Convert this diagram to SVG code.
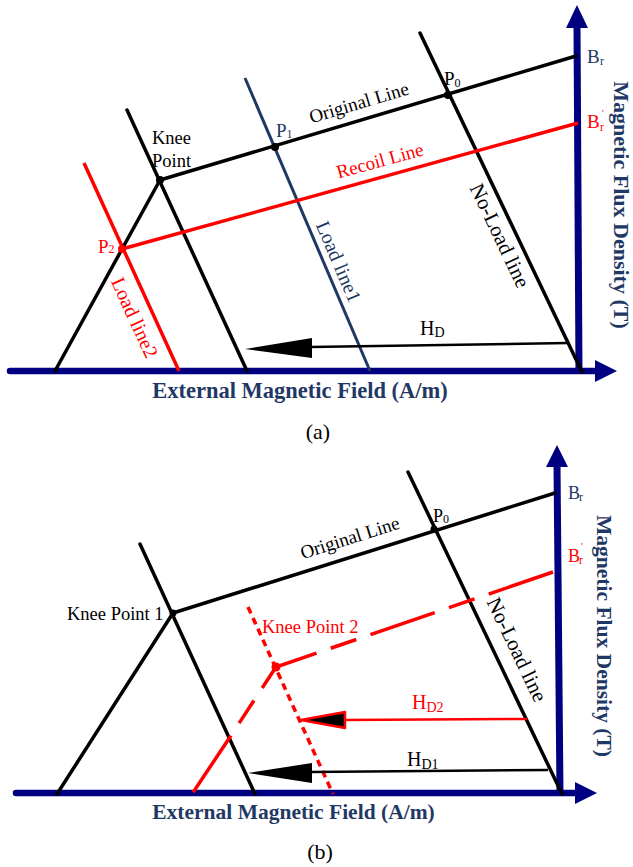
<svg xmlns="http://www.w3.org/2000/svg" width="633" height="867" viewBox="0 0 633 867">
<style>
text{font-family:"Liberation Serif","Times New Roman",serif;}
.axis{stroke:#000080;stroke-width:6.5;stroke-linecap:round;fill:none;}
.yaxis{stroke:#000080;stroke-width:7;fill:none;}
.head{fill:#000080;}
.blk{stroke:#000;stroke-width:3.5;fill:none;stroke-linecap:round;}
.red{stroke:#ff0000;stroke-width:3.5;fill:none;}
.nav{stroke:#1f3864;stroke-width:3;fill:none;}
.hl{stroke:#000;stroke-width:2.5;fill:none;}
.lab{font-size:18.5px;fill:#000;}
.ttl{font-size:22px;font-weight:bold;fill:#1f3864;}
.cap{font-size:22px;fill:#000;}
.sub{font-size:12px;}
.pr{font-size:10px;}
.hsub{font-size:14px;}
</style>

<g id="panel-a">
  <g id="a-axes">
    <line class="axis" x1="10" y1="371" x2="597" y2="371"/>
    <polygon class="head" points="617,371 595,360 595,382"/>
    <line class="yaxis" x1="579" y1="373" x2="577" y2="26"/>
    <polygon class="head" points="577,5 566,28 588,28"/>
  </g>
  <g id="a-connectors">
    <line class="blk" x1="160" y1="180" x2="576" y2="56"/>
    <line class="blk" x1="127" y1="110" x2="247" y2="371"/>
    <line class="blk" x1="160" y1="180" x2="55" y2="371"/>
    <line class="blk" x1="420" y1="33" x2="582" y2="372"/>
    <line class="nav" x1="245" y1="78" x2="370" y2="371"/>
    <line class="red" x1="84" y1="163" x2="179" y2="371"/>
    <line class="red" x1="122" y1="249" x2="578" y2="123"/>
    <line class="hl" x1="310" y1="347" x2="568" y2="343"/>
    <polygon points="245,349 312,338 312,358" fill="#000"/>
  </g>
  <g id="a-knee"><circle cx="160" cy="180" r="4" fill="#000"/>
    <text class="lab" x="152" y="144">Knee</text><text class="lab" x="152" y="167">Point</text></g>
  <g id="a-p1"><circle cx="275" cy="147" r="4" fill="#000"/>
    <text x="276" y="137" font-size="19" fill="#1f3864">P<tspan class="sub" dy="1">1</tspan></text></g>
  <g id="a-p0"><circle cx="448" cy="95" r="4" fill="#000"/>
    <text x="444" y="85" font-size="19" fill="#000">P<tspan class="sub" dy="2">0</tspan></text></g>
  <g id="a-p2"><circle cx="122" cy="249" r="4" fill="#ff0000"/>
    <text x="98" y="253" font-size="19" fill="#ff0000">P<tspan class="sub">2</tspan></text></g>
  <g id="a-br"><text x="587" y="63" font-size="19" fill="#1f3864">B<tspan class="sub" x="600" y="65">r</tspan></text></g>
  <g id="a-br2"><text x="587" y="128" font-size="19" fill="#ff0000">B<tspan class="sub" x="600" y="131">r</tspan></text>
    <text class="pr" x="602" y="117" fill="#ff0000">'</text></g>
  <g id="a-hd"><text x="420" y="335" font-size="20" fill="#000">H<tspan class="hsub" dy="2">D</tspan></text></g>
  <g id="a-original"><text text-anchor="middle" transform="translate(359,103) rotate(-16.6)" x="0" y="6" style="font-size:19px;fill:#000">Original Line</text></g>
  <g id="a-recoil"><text text-anchor="middle" transform="translate(380,161) rotate(-15.4)" x="0" y="6" style="font-size:19px;fill:#ff0000">Recoil Line</text></g>
  <g id="a-load1"><text text-anchor="middle" transform="translate(338,262) rotate(66.9)" x="0" y="6" style="font-size:20px;fill:#1f3864">Load line1</text></g>
  <g id="a-load2"><text text-anchor="middle" transform="translate(134,318) rotate(65.4)" x="0" y="6" style="font-size:20px;fill:#ff0000">Load line2</text></g>
  <g id="a-noload"><text text-anchor="middle" transform="translate(499,236) rotate(64.5)" x="0" y="6" style="font-size:21px;fill:#000">No-Load line</text></g>
  <text class="ttl" x="300" y="398" text-anchor="middle" style="font-size:22.5px">External Magnetic Field (A/m)</text>
  <text class="ttl" text-anchor="middle" transform="translate(614,205) rotate(90)" style="font-size:22px">Magnetic Flux Density (T)</text>
  <text class="cap" x="318" y="439" text-anchor="middle">(a)</text>
</g>

<g id="panel-b">
  <g id="b-axes">
    <line class="axis" x1="16" y1="793" x2="577" y2="793"/>
    <polygon class="head" points="597,793 575,782 575,804"/>
    <line class="yaxis" x1="560" y1="795" x2="557" y2="464"/>
    <polygon class="head" points="557,445 546,467 568,467"/>
  </g>
  <g id="b-connectors">
    <line class="blk" x1="173" y1="613" x2="555" y2="493"/>
    <line class="blk" x1="140" y1="544" x2="255" y2="794"/>
    <line class="blk" x1="173" y1="613" x2="57" y2="794"/>
    <line class="blk" x1="408" y1="472" x2="562" y2="794"/>
    <polyline class="red" points="553,572 276,667 230,737 192,794" stroke-dasharray="68 15 27 15"/>
    <line class="red" x1="248" y1="607" x2="333" y2="794" stroke-width="3" stroke-dasharray="7 5"/>
    <line x1="343" y1="720" x2="527" y2="719" stroke="#ff0000" stroke-width="2.5"/>
    <polygon points="301,720 345,712 345,728" fill="#000" stroke="#ff0000" stroke-width="2.5" stroke-linejoin="round"/>
    <line class="hl" x1="310" y1="772" x2="548" y2="770"/>
    <polygon points="248,773 312,763 312,783" fill="#000"/>
  </g>
  <g id="b-knee1"><circle cx="173" cy="613" r="3.5" fill="#000"/>
    <text class="lab" x="67" y="620">Knee Point 1</text></g>
  <g id="b-knee2"><circle cx="276" cy="667" r="4.5" fill="#ff0000"/>
    <text class="lab" x="262" y="633" style="fill:#ff0000">Knee Point 2</text></g>
  <g id="b-p0"><circle cx="434" cy="529" r="3.5" fill="#000"/>
    <text x="433" y="522" font-size="18" fill="#000">P<tspan class="sub" dy="1">0</tspan></text></g>
  <g id="b-br"><text x="568" y="499" font-size="18" fill="#1f3864">B<tspan class="sub" x="579" y="501">r</tspan></text></g>
  <g id="b-br2"><text x="568" y="562" font-size="18" fill="#ff0000">B<tspan class="sub" x="579" y="564">r</tspan></text>
    <text class="pr" x="581" y="550" fill="#ff0000">'</text></g>
  <g id="b-original"><text text-anchor="middle" transform="translate(350,538) rotate(-17.5)" x="0" y="6" style="font-size:19px;fill:#000">Original Line</text></g>
  <g id="b-noload"><text text-anchor="middle" transform="translate(516,650) rotate(64.4)" x="0" y="6" style="font-size:21px;fill:#000">No-Load line</text></g>
  <g id="b-hd2"><text x="412" y="709" font-size="20" fill="#ff0000">H<tspan class="hsub" dy="3">D2</tspan></text></g>
  <g id="b-hd1"><text x="407" y="766" font-size="20" fill="#000">H<tspan class="hsub" dy="3">D1</tspan></text></g>
  <text class="ttl" x="293.5" y="819" text-anchor="middle" style="font-size:21.5px">External Magnetic Field (A/m)</text>
  <text class="ttl" text-anchor="middle" transform="translate(597,636) rotate(90)" style="font-size:21.5px">Magnetic Flux Density (T)</text>
  <text class="cap" x="320" y="859" text-anchor="middle">(b)</text>
</g>
</svg>
